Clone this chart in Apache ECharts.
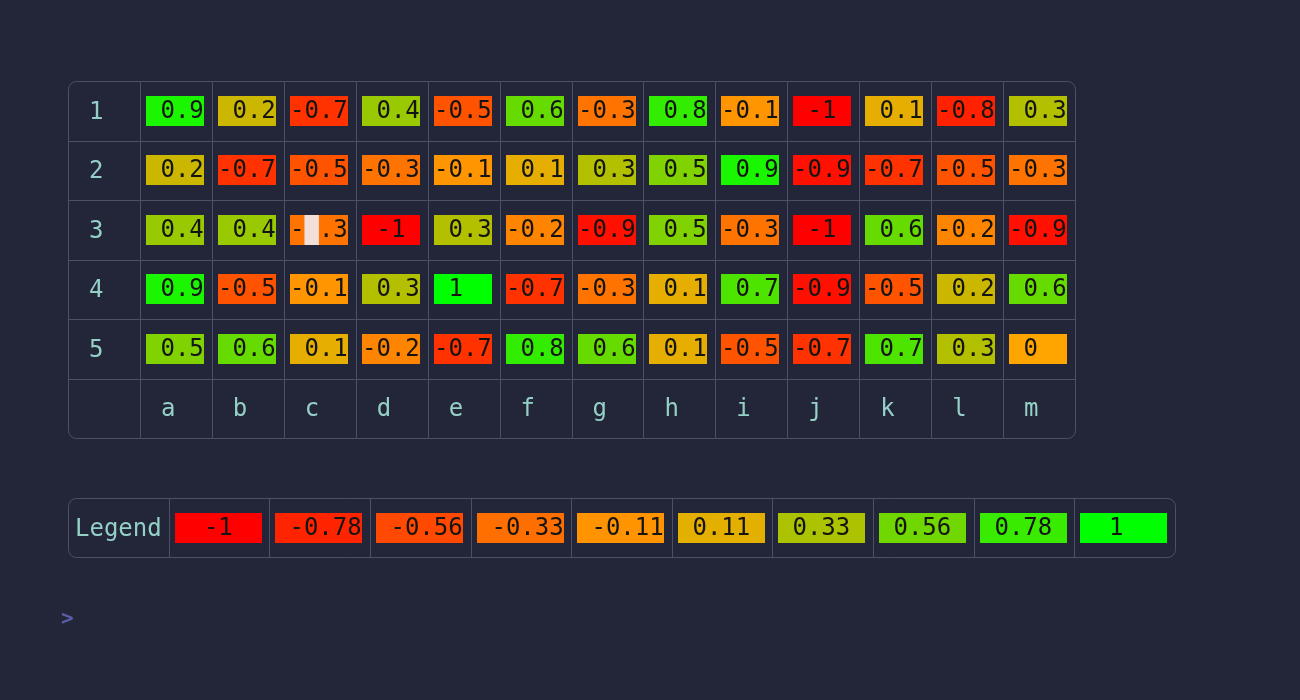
<!DOCTYPE html>
<html>
<head>
<meta charset="utf-8">
<script src="https://cdn.jsdelivr.net/npm/echarts@6/dist/echarts.min.js"></script>
<style>
  html, body { margin: 0; background: #232539; }
  #chart { width: 1300px; height: 700px; }
</style>
</head>
<body>
<div id="chart"></div>
<script>
(function() {
  // --- data ---
  var rowLabels = ['1', '2', '3', '4', '5'];
  var colLabels = ['a', 'b', 'c', 'd', 'e', 'f', 'g', 'h', 'i', 'j', 'k', 'l', 'm'];
  var values = [
    [0.9, 0.2, -0.7, 0.4, -0.5, 0.6, -0.3, 0.8, -0.1, -1, 0.1, -0.8, 0.3],
    [0.2, -0.7, -0.5, -0.3, -0.1, 0.1, 0.3, 0.5, 0.9, -0.9, -0.7, -0.5, -0.3],
    [0.4, 0.4, -0.3, -1, 0.3, -0.2, -0.9, 0.5, -0.3, -1, 0.6, -0.2, -0.9],
    [0.9, -0.5, -0.1, 0.3, 1, -0.7, -0.3, 0.1, 0.7, -0.9, -0.5, 0.2, 0.6],
    [0.5, 0.6, 0.1, -0.2, -0.7, 0.8, 0.6, 0.1, -0.5, -0.7, 0.7, 0.3, 0]
  ];
  var legendTitle = 'Legend';
  var legendSteps = [-1, -0.78, -0.56, -0.33, -0.11, 0.11, 0.33, 0.56, 0.78, 1];
  var cursorCell = [2, 2]; // row, col where the terminal cursor sits

  // --- look ---
  var bg = '#232539';
  var rule = '#4d5069';
  var labelColor = '#94d0c6';
  var ink = '#141414';
  var mono = '"DejaVu Sans Mono", "Liberation Mono", monospace';
  var fontSize = 24;
  var charW = 14.45;

  var T = { left: 68, top: 81, width: 1007, height: 357 };
  var L = { left: 68, top: 498, width: 1107, height: 59 };

  var xCats = [''].concat(colLabels);
  var yCats = rowLabels.concat(['']);
  var legendCats = [legendTitle].concat(legendSteps.map(String));

  var px = function(v) { return Math.round(v) + 0.5; };

  // borders between cells (outer edge drawn as rounded rect)
  function frameItem(nx, ny) {
    return function(params, api) {
      var c = api.coord([api.value(0), api.value(1)]);
      var s = api.size([1, 1]);
      var x0 = c[0] - s[0] / 2, y0 = c[1] - s[1] / 2;
      var kids = [];
      var lineStyle = { stroke: rule, lineWidth: 1 };
      if (api.value(0) < nx - 1) {
        kids.push({ type: 'line', shape: { x1: px(x0 + s[0]), y1: y0, x2: px(x0 + s[0]), y2: y0 + s[1] }, style: lineStyle });
      }
      if (api.value(1) < ny - 1) {
        kids.push({ type: 'line', shape: { x1: x0, y1: px(y0 + s[1]), x2: x0 + s[0], y2: px(y0 + s[1]) }, style: lineStyle });
      }
      return { type: 'group', children: kids };
    };
  }

  function textStart(str, slots, isLegend) {
    var isInt = str.indexOf('.') < 0;
    if (isInt) return Math.floor((slots - str.length) / 2);
    return isLegend ? 1 : slots - str.length;
  }

  function cellItem(slots, isLegend) {
    return function(params, api) {
      var c = api.coord([api.value(0), api.value(1)]);
      var s = api.size([1, 1]);
      var x0 = c[0] - s[0] / 2;
      var rx = Math.round(x0 + 6), rw = Math.round(s[0] - 14);
      var ry = Math.round(c[1] - 15);
      var v = api.value(2);
      var str = String(v);
      var kids = [
        { type: 'rect', shape: { x: rx, y: ry, width: rw, height: 30 }, style: { fill: api.visual('color') } },
        { type: 'text', x: rx + textStart(str, slots, isLegend) * charW, y: ry + 16,
          style: { text: str, fill: ink, font: fontSize + 'px ' + mono, textAlign: 'left', textVerticalAlign: 'middle' } }
      ];
      if (!isLegend && api.value(1) === cursorCell[0] && api.value(0) - 1 === cursorCell[1]) {
        var ci = textStart(str, slots, false) + 1;
        kids.push({ type: 'rect', shape: { x: rx + ci * charW, y: ry, width: charW, height: 30 }, style: { fill: '#f3dfda' } });
      }
      return { type: 'group', children: kids };
    };
  }

  function labelItem(offset, names) {
    return function(params, api) {
      var c = api.coord([api.value(0), api.value(1)]);
      var s = api.size([1, 1]);
      return {
        type: 'text', x: c[0] - s[0] / 2 + offset, y: c[1] + 2,
        style: { text: names[params.dataIndex], fill: labelColor, font: fontSize + 'px ' + mono, textAlign: 'left', textVerticalAlign: 'middle' }
      };
    };
  }

  var frameData = [];
  xCats.forEach(function(_, i) { yCats.forEach(function(_, j) { frameData.push([i, j]); }); });
  var legendFrame = legendCats.map(function(_, i) { return [i, 0]; });

  var cellData = [];
  values.forEach(function(row, r) { row.forEach(function(v, c) { cellData.push([c + 1, r, v]); }); });
  var headNames = [], headData = [];
  rowLabels.forEach(function(n, r) { headNames.push(n); headData.push([0, r]); });
  colLabels.forEach(function(n, c) { headNames.push(n); headData.push([c + 1, rowLabels.length]); });
  var legendData = legendSteps.map(function(v, i) { return [i + 1, 0, v]; });

  var axisOff = { axisLine: { show: false }, axisTick: { show: false }, axisLabel: { show: false }, splitLine: { show: false } };

  var chart = echarts.init(document.getElementById('chart'), null, { renderer: 'canvas' });
  chart.setOption({
    animation: false,
    backgroundColor: bg,
    grid: [
      { left: T.left, top: T.top, width: T.width, height: T.height },
      { left: L.left, top: L.top, width: L.width, height: L.height }
    ],
    xAxis: [
      Object.assign({ type: 'category', data: xCats, gridIndex: 0 }, axisOff),
      Object.assign({ type: 'category', data: legendCats, gridIndex: 1 }, axisOff)
    ],
    yAxis: [
      Object.assign({ type: 'category', data: yCats, inverse: true, gridIndex: 0 }, axisOff),
      Object.assign({ type: 'category', data: [''], gridIndex: 1 }, axisOff)
    ],
    visualMap: {
      type: 'continuous', show: false, min: -1, max: 1, dimension: 2, seriesIndex: [2, 5],
      inRange: { color: ['#ff0000', '#ffa500', '#00ff00'] }
    },
    graphic: [
      { type: 'rect', shape: { x: T.left + 0.5, y: T.top + 0.5, width: T.width, height: T.height, r: 8 }, style: { fill: 'none', stroke: rule, lineWidth: 1 }, z: 10 },
      { type: 'rect', shape: { x: L.left + 0.5, y: L.top + 0.5, width: L.width, height: L.height, r: 8 }, style: { fill: 'none', stroke: rule, lineWidth: 1 }, z: 10 },
      { type: 'text', x: 61, y: 609, style: { text: '>', fill: '#5a5ea6', font: 'bold 21px ' + mono } }
    ],
    series: [
      { type: 'custom', xAxisIndex: 0, yAxisIndex: 0, data: frameData, clip: false, silent: true,
        renderItem: frameItem(xCats.length, yCats.length) },
      { type: 'custom', xAxisIndex: 0, yAxisIndex: 0, data: headData, clip: false, silent: true,
        renderItem: labelItem(21, headNames) },
      { type: 'custom', xAxisIndex: 0, yAxisIndex: 0, data: cellData, clip: false, silent: true,
        renderItem: cellItem(4, false) },
      { type: 'custom', xAxisIndex: 1, yAxisIndex: 1, data: legendFrame, clip: false, silent: true,
        renderItem: frameItem(legendCats.length, 1) },
      { type: 'custom', xAxisIndex: 1, yAxisIndex: 1, data: [[0, 0]], clip: false, silent: true,
        renderItem: labelItem(7, [legendTitle]) },
      { type: 'custom', xAxisIndex: 1, yAxisIndex: 1, data: legendData, clip: false, silent: true,
        renderItem: cellItem(6, true) }
    ]
  });
  window.addEventListener('resize', function() { chart.resize(); });
})();
</script>
</body>
</html>
